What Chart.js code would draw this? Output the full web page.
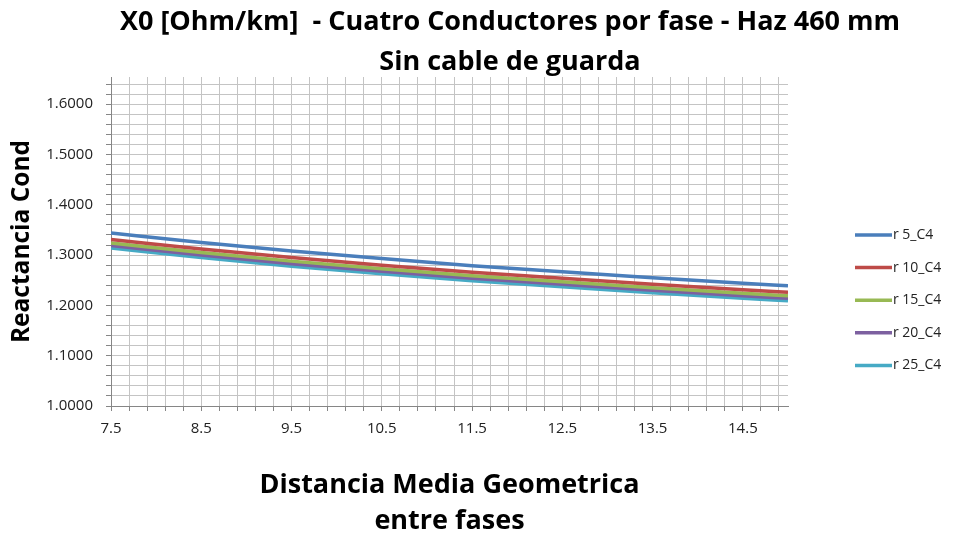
<!DOCTYPE html>
<html>
<head>
<meta charset="utf-8">
<script src="https://cdn.jsdelivr.net/npm/chart.js@4"></script>
<style>
  html, body { margin: 0; padding: 0; background: #fff; }
  #wrap { width: 953px; height: 539px; }
</style>
</head>
<body>
<div id="wrap"><canvas id="chart" width="953" height="539"></canvas></div>
<script>
const titleLines = ['X0 [Ohm/km]  - Cuatro Conductores por fase - Haz 460 mm', 'Sin cable de guarda'];
const xTitle = ['Distancia Media Geometrica', 'entre fases'];
const yTitle = 'Reactancia Cond';

const distances = [7.5, 8.5, 9.5, 10.5, 11.5, 12.5, 13.5, 14.5, 15];
const seriesLabels = ['r 5_C4', 'r 10_C4', 'r 15_C4', 'r 20_C4', 'r 25_C4'];
const seriesColors = ['#4a7ebb', '#be4b48', '#98b954', '#7d60a0', '#46aac5'];
const r5 = [1.344, 1.325, 1.308, 1.293, 1.279, 1.267, 1.255, 1.244, 1.239];
const r10 = [1.331, 1.312, 1.295, 1.280, 1.266, 1.254, 1.242, 1.231, 1.226];
const r15 = [1.324, 1.305, 1.288, 1.273, 1.259, 1.247, 1.235, 1.224, 1.219];
const r20 = [1.319, 1.300, 1.283, 1.268, 1.254, 1.242, 1.230, 1.219, 1.214];
const r25 = [1.314, 1.295, 1.278, 1.263, 1.249, 1.237, 1.225, 1.214, 1.209];
const seriesValues = [r5, r10, r15, r20, r25];

const fontFamily = '"Open Sans", Lato, sans-serif';
const gridColor = '#c4c4c4';
const axisColor = '#868686';

const datasets = seriesValues.map((values, i) => ({
    label: seriesLabels[i],
    data: values.map((v, j) => ({ x: distances[j], y: v })),
    borderColor: seriesColors[i],
    backgroundColor: seriesColors[i],
    borderWidth: 3.5,
    pointRadius: 0,
    cubicInterpolationMode: 'monotone',
}));

// tick positions: every 0.2 on x from 7.5, every 0.02 on y from 1.0
function stepTicks(start, end, step) {
    const ticks = [];
    const n = Math.round((end - start) / step);
    for (let i = 0; i <= n; i++) {
        ticks.push({ value: +(start + i * step).toFixed(4) });
    }
    return ticks;
}

const headerPlugin = {
    id: 'header',
    afterDraw(chart) {
        const ctx = chart.ctx;
        ctx.save();
        ctx.fillStyle = '#000';
        ctx.textAlign = 'center';
        ctx.textBaseline = 'middle';
        ctx.font = `bold 27px ${fontFamily}`;
        ctx.fillText(titleLines[0], 510, 22);
        ctx.fillText(titleLines[1], 510, 62);
        ctx.restore();
    }
};

const sideLegend = {
    id: 'sideLegend',
    afterDraw(chart) {
        const ctx = chart.ctx;
        ctx.save();
        ctx.font = `14px ${fontFamily}`;
        ctx.textBaseline = 'middle';
        ctx.textAlign = 'left';
        chart.data.datasets.forEach((ds, i) => {
            const y = 235 + i * 32.6;
            ctx.strokeStyle = ds.borderColor;
            ctx.lineWidth = 3.5;
            ctx.beginPath();
            ctx.moveTo(855, y);
            ctx.lineTo(892, y);
            ctx.stroke();
            ctx.fillStyle = '#222';
            ctx.fillText(ds.label, 893, y);
        });
        ctx.restore();
    }
};

new Chart(document.getElementById('chart'), {
    type: 'line',
    data: { datasets },
    plugins: [headerPlugin, sideLegend],
    options: {
        responsive: false,
        animation: false,
        layout: { padding: { top: 77, right: 165, left: 0, bottom: 0 } },
        plugins: {
            legend: { display: false },
            title: { display: false },
            tooltip: { enabled: false },
        },
        scales: {
            x: {
                type: 'linear',
                min: 7.5,
                max: 15,
                afterBuildTicks: (scale) => { scale.ticks = stepTicks(7.5, 14.9, 0.2); },
                afterFit: (scale) => { scale.height = 133; },
                grid: { color: gridColor, tickColor: axisColor, tickLength: 5 },
                border: { color: axisColor },
                ticks: {
                    autoSkip: false,
                    maxRotation: 0,
                    padding: 9,
                    color: '#222',
                    font: { family: fontFamily, size: 15 },
                    callback: (value, index) => index % 5 === 0 ? value.toFixed(1) : '',
                },
                title: {
                    display: true,
                    text: xTitle,
                    color: '#000',
                    padding: { top: 0, bottom: 0 },
                    font: { family: fontFamily, size: 27, weight: 'bold', lineHeight: '36px' },
                },
            },
            y: {
                min: 1.0,
                max: 1.654,
                afterBuildTicks: (scale) => { scale.ticks = stepTicks(1.0, 1.64, 0.02); },
                afterFit: (scale) => { scale.width = 111; },
                grid: { color: gridColor, tickColor: axisColor, tickLength: 5 },
                border: { color: axisColor },
                ticks: {
                    autoSkip: false,
                    padding: 13,
                    color: '#222',
                    font: { family: fontFamily, size: 15 },
                    callback: (value, index) => index % 5 === 0 ? value.toFixed(4) : '',
                },
                title: {
                    display: true,
                    text: yTitle,
                    color: '#000',
                    padding: { top: 8, bottom: 0 },
                    font: { family: fontFamily, size: 24.5, weight: 'bold', lineHeight: '28px' },
                },
            },
        },
    },
});
</script>
</body>
</html>
